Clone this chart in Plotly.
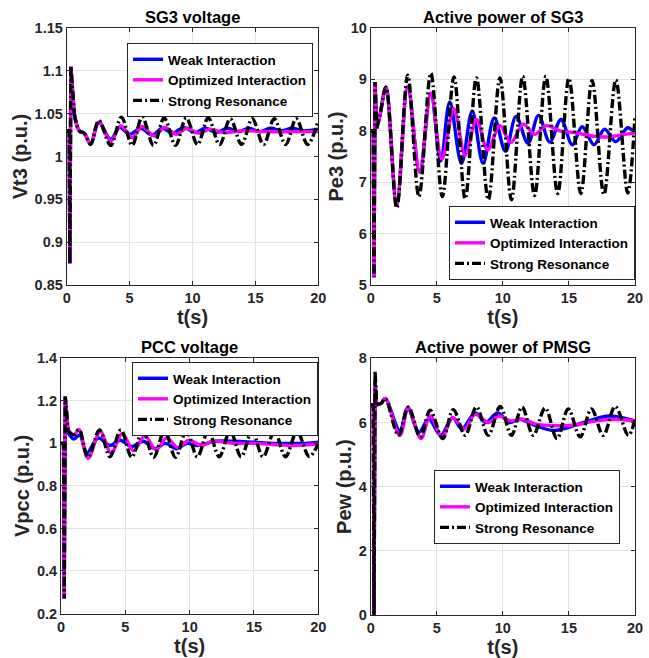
import plotly.graph_objects as go

# ---------------- data ----------------
# Panel 1: SG3 voltage Vt3 (p.u.)
VT3_T_STRONG = [0, 0.2, 0.25, 0.33, 0.6, 1.0, 1.4, 1.9, 2.55, 3.5, 4.35, 5.2, 6.0, 6.9, 7.75, 8.65, 9.5, 10.4, 11.25, 12.15,
                13.0, 13.9, 14.75, 15.65, 16.5, 17.4, 18.25, 19.15, 20.0]
VT3_STRONG = [1.03, 1.03, 0.875, 1.105, 1.05, 1.03, 1.027, 1.014, 1.042, 1.013, 1.046, 1.013, 1.046, 1.013, 1.045, 1.013,
              1.045, 1.014, 1.045, 1.014, 1.044, 1.014, 1.044, 1.014, 1.044, 1.014, 1.044, 1.014, 1.042]
VT3_T_OPT = [0, 0.2, 0.25, 0.33, 0.6, 1.0, 1.4, 1.9, 2.55, 3.5, 4.3, 5.2, 6.0, 6.95, 7.8, 8.7, 9.55, 10.5, 11.4, 12.4, 14.0,
             16.0, 18.0, 20.0]
VT3_OPT = [1.03, 1.03, 0.875, 1.105, 1.05, 1.03, 1.027, 1.015, 1.04, 1.018, 1.036, 1.022, 1.035, 1.024, 1.034, 1.026,
           1.033, 1.027, 1.032, 1.028, 1.030, 1.029, 1.029, 1.029]
VT3_T_WEAK = [0, 0.2, 0.25, 0.33, 0.6, 1.0, 1.4, 1.9, 2.55, 3.5, 4.2, 5.0, 5.9, 6.8, 7.6, 8.4, 9.3, 10.2, 11.0, 11.9, 12.8,
              13.6, 14.5, 15.3, 16.2, 17.1, 17.9, 18.8, 20.0]
VT3_WEAK = [1.03, 1.03, 0.875, 1.105, 1.05, 1.03, 1.027, 1.015, 1.04, 1.02, 1.034, 1.026, 1.033, 1.025, 1.033, 1.027,
            1.034, 1.028, 1.033, 1.028, 1.033, 1.029, 1.033, 1.029, 1.033, 1.030, 1.033, 1.030, 1.032]

# Panel 2: Active power of SG3 Pe3 (p.u.)
PE3_T_STRONG = [0, 0.2, 0.25, 0.33, 0.45, 0.7, 1.15, 1.97, 2.8, 3.65, 4.55, 5.42, 6.3, 7.15, 8.0, 8.9, 9.78, 10.65, 11.5,
                12.4, 13.25, 14.15, 15.0, 15.9, 16.75, 17.65, 18.55, 19.45, 20.0]
PE3_STRONG = [8.0, 8.0, 5.15, 8.95, 8.05, 8.3, 8.85, 6.5, 9.08, 6.72, 9.12, 6.72, 9.05, 6.68, 9.03, 6.66, 9.03, 6.66, 9.06,
              6.74, 9.06, 6.78, 9.02, 6.78, 8.98, 6.76, 8.99, 6.79, 8.3]
PE3_T_OPT = [0, 0.2, 0.25, 0.33, 0.45, 0.7, 1.15, 1.97, 2.8, 3.7, 4.55, 5.38, 6.3, 7.15, 8.0, 8.85, 9.78, 10.6, 11.55,
             12.4, 13.3, 14.3, 15.5, 16.8, 18.0, 19.0, 20.0]
PE3_OPT = [8.0, 8.0, 5.15, 8.95, 8.05, 8.3, 8.85, 6.57, 8.86, 7.2, 8.73, 7.45, 8.43, 7.52, 8.22, 7.63, 8.1, 7.77, 8.13,
           7.93, 8.1, 8.0, 7.96, 7.9, 7.88, 7.92, 7.96]
PE3_T_WEAK = [0, 0.2, 0.25, 0.33, 0.45, 0.7, 1.15, 1.97, 2.8, 3.7, 4.55, 5.3, 5.98, 6.87, 7.68, 8.5, 9.35, 10.2, 11.0,
              11.9, 12.7, 13.55, 14.4, 15.25, 16.0, 16.9, 17.7, 18.55, 19.45, 20.0]
PE3_WEAK = [8.0, 8.0, 5.15, 8.95, 8.05, 8.3, 8.85, 6.57, 8.86, 7.2, 8.73, 7.41, 8.56, 7.37, 8.38, 7.37, 8.25, 7.6, 8.28,
            7.76, 8.3, 7.78, 8.22, 7.73, 8.08, 7.73, 8.03, 7.79, 8.06, 7.95]

# Panel 3: PCC voltage Vpcc (p.u.)
VPCC_T_STRONG = [0, 0.2, 0.25, 0.33, 0.55, 1.0, 1.4, 2.1, 3.0, 3.8, 4.65, 5.5, 6.35, 7.2, 8.05, 8.9, 9.75, 10.6, 11.45,
                 12.3, 13.15, 14.0, 14.85, 15.7, 16.6, 17.45, 18.35, 19.3, 20.0]
VPCC_STRONG = [1.0, 1.0, 0.27, 1.22, 1.06, 1.04, 1.065, 0.935, 1.063, 0.937, 1.063, 0.935, 1.06, 0.935, 1.06, 0.935,
               1.058, 0.937, 1.058, 0.937, 1.058, 0.937, 1.057, 0.937, 1.056, 0.937, 1.055, 0.938, 1.0]
VPCC_T_OPT = [0, 0.2, 0.25, 0.33, 0.55, 1.0, 1.4, 2.1, 3.05, 3.9, 4.75, 5.65, 6.5, 7.4, 8.2, 9.1, 9.95, 10.9, 11.8, 13.5,
              15.0, 16.5, 18.0, 19.0, 20.0]
VPCC_OPT = [1.0, 1.0, 0.27, 1.22, 1.06, 1.04, 1.065, 0.93, 1.055, 0.955, 1.045, 0.965, 1.035, 0.97, 1.025, 0.98, 1.015,
            0.99, 1.01, 1.0, 1.0, 0.995, 0.99, 0.993, 0.997]
VPCC_T_WEAK = [0, 0.2, 0.25, 0.33, 0.55, 1.0, 1.45, 2.0, 2.9, 3.8, 4.6, 5.5, 6.4, 7.3, 8.1, 9.0, 9.8, 10.6, 12.0, 13.5,
               15.0, 16.5, 18.0, 19.0, 20.0]
VPCC_WEAK = [1.0, 1.0, 0.27, 1.22, 1.05, 1.02, 1.04, 0.955, 1.025, 0.99, 1.015, 0.985, 1.01, 0.975, 1.0, 0.975, 1.0,
             0.99, 1.01, 1.01, 1.005, 1.0, 1.0, 1.0, 1.005]

# Panel 4: Active power of PMSG Pew (p.u.)
PEW_T_STRONG = [0, 0.2, 0.25, 0.33, 0.45, 0.8, 1.1, 2.1, 2.85, 3.75, 4.5, 5.45, 6.25, 7.15, 8.0, 8.9, 9.8, 10.65, 11.45,
                12.3, 13.2, 14.1, 14.95, 15.85, 16.7, 17.6, 18.5, 19.5, 20.0]
PEW_STRONG = [6.55, 6.55, 0.0, 7.6, 6.55, 6.6, 6.75, 5.6, 6.48, 5.55, 6.38, 5.5, 6.4, 5.6, 6.48, 5.6, 6.5, 5.6, 6.48, 5.6,
              6.45, 5.5, 6.42, 5.55, 6.42, 5.6, 6.5, 5.6, 6.1]
PEW_T_OPT = [0, 0.2, 0.25, 0.33, 0.45, 0.8, 1.1, 2.2, 2.85, 3.8, 4.5, 5.4, 6.2, 7.1, 7.9, 8.9, 9.7, 10.6, 11.5, 12.5, 14.0,
             15.5, 17.0, 18.5, 20.0]
PEW_OPT = [6.55, 6.55, 0.0, 7.3, 6.55, 6.6, 6.75, 5.6, 6.45, 5.5, 6.2, 5.55, 6.15, 5.8, 6.25, 6.0, 6.2, 6.05, 6.1, 5.95,
           5.9, 5.92, 6.05, 6.1, 6.05]
PEW_T_WEAK = [0, 0.2, 0.25, 0.33, 0.45, 0.8, 1.1, 2.2, 2.8, 3.65, 4.4, 5.3, 6.2, 6.9, 7.9, 8.7, 9.6, 10.5, 11.3, 12.5,
              13.8, 15.0, 16.5, 18.0, 19.0, 20.0]
PEW_WEAK = [6.55, 6.55, 0.0, 7.3, 6.55, 6.6, 6.75, 5.75, 6.45, 5.7, 6.1, 5.6, 6.15, 5.8, 6.3, 6.0, 6.3, 6.0, 6.1, 5.9,
            5.75, 5.85, 6.05, 6.2, 6.15, 6.05]

SERIES_NAMES = ["Weak Interaction", "Optimized Interaction", "Strong Resonance"]
PANEL_TITLES = ["SG3 voltage", "Active power of SG3", "PCC voltage", "Active power of PMSG"]
Y_TITLES = ["Vt3 (p.u.)", "Pe3 (p.u.)", "Vpcc (p.u.)", "Pew (p.u.)"]
X_TITLE = "t(s)"
Y_RANGES = [[0.85, 1.15], [5, 10], [0.2, 1.4], [0, 8]]
Y_DTICKS = [0.05, 1, 0.2, 2]
X_RANGE = [0, 20]
X_DTICK = 5

PANELS = [
    [(VT3_T_WEAK, VT3_WEAK), (VT3_T_OPT, VT3_OPT), (VT3_T_STRONG, VT3_STRONG)],
    [(PE3_T_WEAK, PE3_WEAK), (PE3_T_OPT, PE3_OPT), (PE3_T_STRONG, PE3_STRONG)],
    [(VPCC_T_WEAK, VPCC_WEAK), (VPCC_T_OPT, VPCC_OPT), (VPCC_T_STRONG, VPCC_STRONG)],
    [(PEW_T_WEAK, PEW_WEAK), (PEW_T_OPT, PEW_OPT), (PEW_T_STRONG, PEW_STRONG)],
]

# ---------------- styling / layout ----------------
W, H = 649, 658
COLORS = ["#0000FF", "#FF00FF", "#000000"]
DASHES = ["solid", "solid", "9px,3px,2px,3px"]
LW = 3.4
FONT = "Liberation Sans, Arial, sans-serif"

# plot-area pixel boxes (left, right, top, bottom)
BOXES = [(66.7, 318.3, 28, 285), (370.7, 635, 28, 285), (61, 318.3, 358.3, 613.5), (370.7, 635, 358.3, 615)]
LEGEND_POS = [(313, 43), (635, 206), (318, 362), (620, 470)]

fig = go.Figure()

for p, panel in enumerate(PANELS):
    ax = "" if p == 0 else str(p + 1)
    for s, (t, v) in enumerate(panel):
        # split index: spike part drawn straight, oscillation part smoothed
        k = next(i for i, tt in enumerate(t) if tt >= 0.44)
        common = dict(xaxis="x" + ax, yaxis="y" + ax, mode="lines",
                      legendgroup=f"p{p}s{s}", legend="legend" + ax)
        fig.add_trace(go.Scatter(x=t[:k + 1], y=v[:k + 1], showlegend=False, hoverinfo="skip",
                                 line=dict(color=COLORS[s], width=LW, dash=DASHES[s], shape="linear"), **common))
        fig.add_trace(go.Scatter(x=t[k:], y=v[k:], name=SERIES_NAMES[s], showlegend=True,
                                 line=dict(color=COLORS[s], width=LW, dash=DASHES[s], shape="spline",
                                           smoothing=1.0), **common))

layout = dict(width=W, height=H, margin=dict(l=0, r=0, t=0, b=0, autoexpand=False),
              paper_bgcolor="white", plot_bgcolor="white", showlegend=True,
              font=dict(family=FONT, size=14, color="#262626", weight="bold"))

annotations = []
for p in range(4):
    ax = "" if p == 0 else str(p + 1)
    l, r, t, b = BOXES[p]
    xd = [l / W, r / W]
    yd = [1 - b / H, 1 - t / H]
    axis_common = dict(showgrid=True, gridcolor="#e3e3e3", gridwidth=1, zeroline=False,
                       showline=True, linecolor="#262626", linewidth=1, mirror="ticks",
                       ticks="inside", ticklen=4, tickcolor="#262626", automargin=False,
                       tickfont=dict(family=FONT, size=14.5, color="#262626", weight="bold"))
    layout["xaxis" + ax] = dict(domain=xd, range=X_RANGE, dtick=X_DTICK, tick0=0,
                                anchor="y" + ax,
                                title=dict(text=X_TITLE, standoff=2,
                                           font=dict(family=FONT, size=20, color="#262626", weight="bold")),
                                **axis_common)
    layout["yaxis" + ax] = dict(domain=yd, range=Y_RANGES[p], dtick=Y_DTICKS[p], tick0=Y_RANGES[p][0],
                                anchor="x" + ax,
                                title=dict(text=Y_TITLES[p], standoff=1,
                                           font=dict(family=FONT, size=20, color="#262626", weight="bold")),
                                **axis_common)
    lx, ly = LEGEND_POS[p]
    layout["legend" + ax] = dict(x=lx / W, y=1 - ly / H, xanchor="right", yanchor="top",
                                 bgcolor="white", bordercolor="#262626", borderwidth=1,
                                 font=dict(family=FONT, size=13.5, color="#000000", weight="bold"),
                                 itemwidth=30, tracegroupgap=0)
    annotations.append(dict(text=PANEL_TITLES[p], x=(xd[0] + xd[1]) / 2, y=yd[1], xref="paper", yref="paper",
                            xanchor="center", yanchor="bottom", yshift=0, showarrow=False,
                            font=dict(family=FONT, size=16.5, color="#000000", weight="bold")))
layout["annotations"] = annotations

fig.update_layout(**layout)
fig.write_html("out.html", config={"displayModeBar": False},
               post_script="document.body.style.margin='0';document.body.style.padding='0';")
